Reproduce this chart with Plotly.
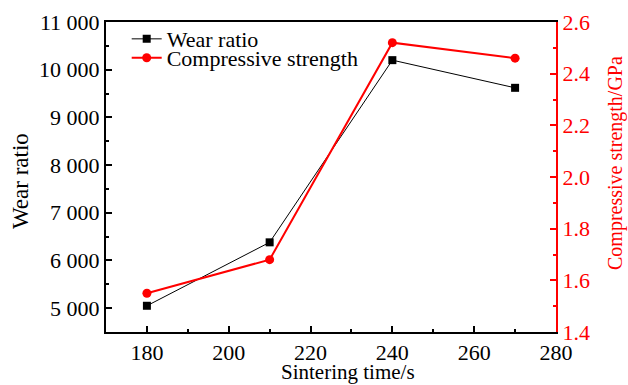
import plotly.graph_objects as go

sintering_time = [180, 210, 240, 270]
wear_ratio = [5050, 6380, 10200, 9620]
compressive_strength = [1.55, 1.68, 2.52, 2.46]

FONT = "Liberation Serif"
FS = 22

fig = go.Figure()
fig.add_trace(go.Scatter(
    x=sintering_time, y=wear_ratio, name="Wear ratio",
    mode="lines+markers", legend="legend",
    line=dict(color="black", width=1),
    marker=dict(symbol="square", size=8, color="black"),
))
fig.add_trace(go.Scatter(
    x=sintering_time, y=compressive_strength, name="Compressive strength",
    mode="lines+markers", yaxis="y2", legend="legend2",
    line=dict(color="red", width=2),
    marker=dict(symbol="circle", size=9, color="red"),
))

leg_common = dict(xanchor="left", yanchor="middle", bgcolor="rgba(0,0,0,0)",
                  font=dict(size=FS), itemwidth=30)

fig.update_layout(
    width=628, height=385,
    margin=dict(l=106, r=72, t=22, b=53),
    paper_bgcolor="white", plot_bgcolor="white",
    font=dict(family=FONT, size=FS, color="black"),
    separators=". ",
    showlegend=True,
    legend=dict(x=0.046, y=0.945, **leg_common),
    legend2=dict(x=0.046, y=0.884, **leg_common),
    xaxis=dict(
        range=[170, 280], dtick=20, tick0=180, automargin=False,
        showgrid=False, zeroline=False,
        showline=True, linecolor="black", linewidth=2, mirror=True,
        ticks="inside", ticklen=6, tickwidth=1.5, tickcolor="black",
        minor=dict(dtick=10, tick0=170, ticks="inside", ticklen=3, tickcolor="black", tickwidth=1.5),
        tickfont=dict(size=FS),
    ),
    yaxis=dict(
        range=[4500, 11000], dtick=1000, tick0=5000, automargin=False,
        separatethousands=True, exponentformat="none",
        showgrid=False, zeroline=False,
        showline=True, linecolor="black", linewidth=2,
        ticks="inside", ticklen=6, tickwidth=1.5, tickcolor="black",
        minor=dict(dtick=500, tick0=4500, ticks="inside", ticklen=3, tickcolor="black", tickwidth=1.5),
        tickfont=dict(size=FS),
    ),
    yaxis2=dict(
        overlaying="y", side="right", automargin=False,
        range=[1.4, 2.6], dtick=0.2, tick0=1.4, tickformat=".1f",
        showgrid=False, zeroline=False,
        showline=True, linecolor="red", linewidth=2,
        ticks="inside", ticklen=6, tickwidth=1.5, tickcolor="red",
        minor=dict(dtick=0.1, tick0=1.4, ticks="inside", ticklen=3, tickcolor="red", tickwidth=1.5),
        tickfont=dict(size=FS, color="red"),
    ),
    annotations=[
        dict(text="Sintering time/s", xref="paper", yref="paper",
             x=(348 - 106) / 450, y=-(372 - 332) / 310, xanchor="center", yanchor="middle",
             showarrow=False, font=dict(size=21)),
        dict(text="Wear ratio", xref="paper", yref="paper", textangle=-90,
             x=-(106 - 20) / 450, y=1 - (181 - 22) / 310, xanchor="center", yanchor="middle",
             showarrow=False, font=dict(size=23)),
        dict(text="Compressive strength/GPa", xref="paper", yref="paper", textangle=-90,
             x=1 + (615 - 556) / 450, y=1 - (163 - 22) / 310, xanchor="center", yanchor="middle",
             showarrow=False, font=dict(size=20, color="red")),
    ],
)

fig.write_html("out.html", config={"displayModeBar": False},
               post_script="document.body.style.margin='0';")
